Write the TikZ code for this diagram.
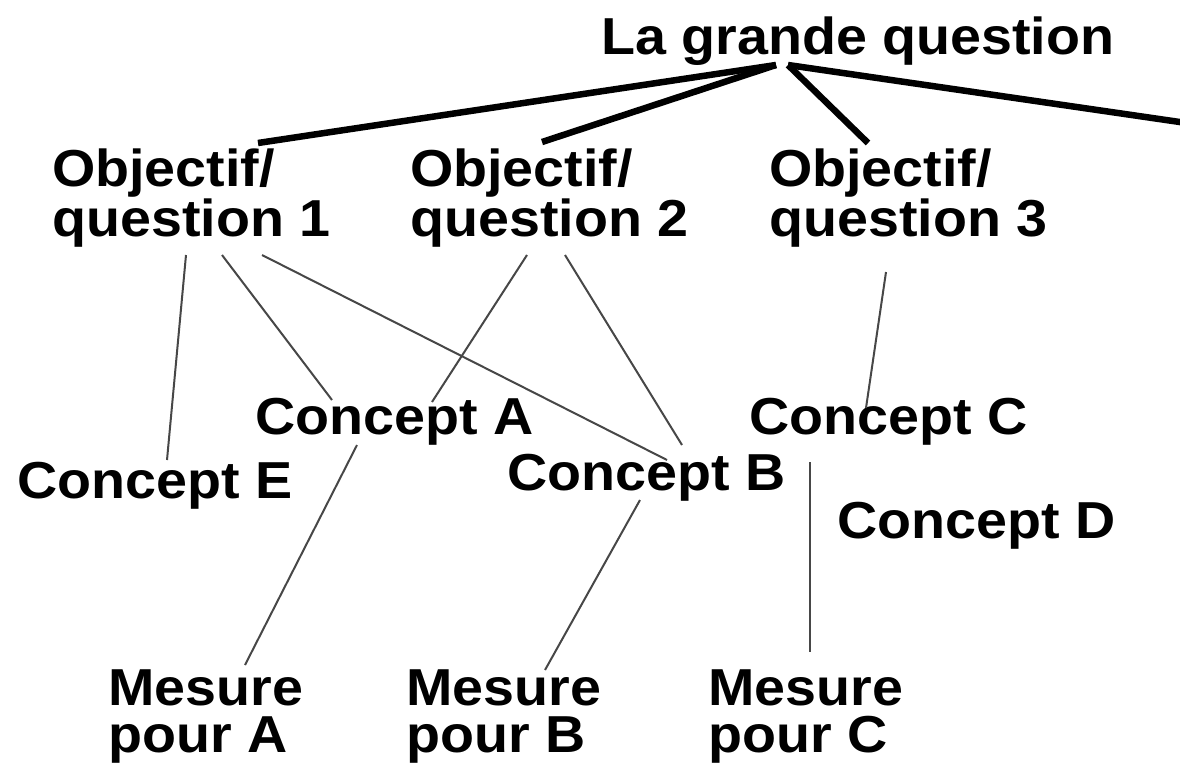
\documentclass[tikz,border=0pt]{standalone}
\usepackage{fontspec}
\setmainfont[FakeStretch=1.07]{Liberation Sans}
\begin{document}
\begin{tikzpicture}[x=1pt,y=-1pt,
  lbl/.style={font=\fontsize{52}{47}\selectfont\bfseries, inner sep=0pt,
              anchor=base west, align=left},
  trunk/.style={line width=6.5pt, draw=black},
  twig/.style={line width=2pt, draw=black!72}]
\useasboundingbox (0,0) rectangle (1180,763);

% labels (two-line labels are placed by the baseline of their last line)
\node[lbl] (top) at (601,54)  {La grande question};
\node[lbl] (q1)  at (52,236)  {Objectif/\\question 1};
\node[lbl] (q2)  at (410,236) {Objectif/\\question 2};
\node[lbl] (q3)  at (769,236) {Objectif/\\question 3};
\node[lbl] (ca)  at (255,434) {Concept A};
\node[lbl] (cb)  at (507,490) {Concept B};
\node[lbl] (cc)  at (749,434) {Concept C};
\node[lbl] (cd)  at (837,538) {Concept D};
\node[lbl] (ce)  at (17,498)  {Concept E};
\node[lbl] (ma)  at (108,752) {Mesure\\pour A};
\node[lbl] (mb)  at (406,752) {Mesure\\pour B};
\node[lbl] (mc)  at (708,752) {Mesure\\pour C};

% line ends
\coordinate (hubL) at (776,65);
\coordinate (hubR) at (788,65);
\coordinate (t1) at (258,143);
\coordinate (t2) at (542,142);
\coordinate (t3) at (868,143);
\coordinate (t4) at (1190,123.5);

\coordinate (q1e) at (186,255);
\coordinate (q1a) at (222,255);
\coordinate (q1b) at (262,255);
\coordinate (q2a) at (527,255);
\coordinate (q2b) at (565,255);
\coordinate (q3c) at (886,272);
\coordinate (ceT) at (167,460);
\coordinate (caL) at (332,400);
\coordinate (caR) at (432,402);
\coordinate (cbT) at (667,460);
\coordinate (cbR) at (682,445);
\coordinate (ccT) at (866,408);
\coordinate (caB) at (357,445);
\coordinate (cbB) at (640,500);
\coordinate (ccB) at (810,462);
\coordinate (maT) at (245,665);
\coordinate (mbT) at (545,670);
\coordinate (mcT) at (810,652);

% the big question to its objectives
\draw[trunk] (hubL) -- (t1);
\draw[trunk] (hubL) -- (t2);
\draw[trunk] (hubR) -- (t3);
\draw[trunk] (hubR) -- (t4);

% objectives to concepts
\draw[twig] (q1e) -- (ceT);
\draw[twig] (q1a) -- (caL);
\draw[twig] (q1b) -- (cbT);
\draw[twig] (q2a) -- (caR);
\draw[twig] (q2b) -- (cbR);
\draw[twig] (q3c) -- (ccT);

% concepts to measures
\draw[twig] (caB) -- (maT);
\draw[twig] (cbB) -- (mbT);
\draw[twig] (ccB) -- (mcT);
\end{tikzpicture}
\end{document}
